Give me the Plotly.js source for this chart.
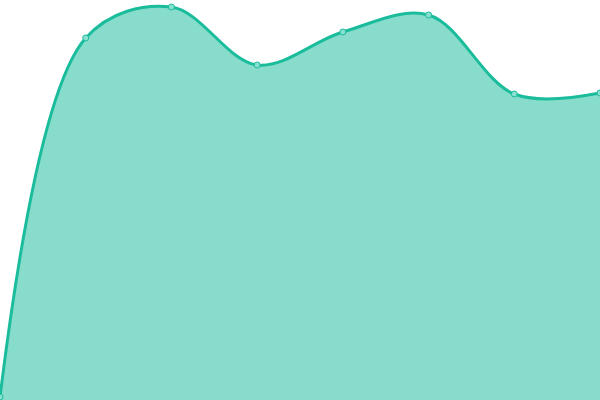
<!DOCTYPE html>
<html>
<head>
<meta charset="utf-8">
<script src="https://cdn.plot.ly/plotly-3.0.1.min.js"></script>
<style>
  html, body { margin: 0; padding: 0; background: #fff; }
  #chart { width: 600px; height: 400px; }
</style>
</head>
<body>
<div id="chart"></div>
<script>
// values
var labels = [0, 1, 2, 3, 4, 5, 6, 7];
var values = [3, 362, 393, 335, 368, 385, 306, 307];

var trace = {
    x: labels,
    y: values,
    type: "scatter",
    mode: "lines+markers",
    fill: "tozeroy",
    fillcolor: "rgba(26,188,156,0.52)",
    line: { color: "#1abc9c", width: 3, shape: "spline", smoothing: 1 },
    marker: { size: 6, color: "#88e0d0", line: { color: "#1abc9c", width: 1 } },
    hoverinfo: "none"
};

var layout = {
    width: 600,
    height: 400,
    margin: { l: 0, r: 0, t: 0, b: 0 },
    showlegend: false,
    paper_bgcolor: "#fff",
    plot_bgcolor: "#fff",
    xaxis: { range: [0, 7], visible: false, fixedrange: true },
    yaxis: { range: [0, 400], visible: false, fixedrange: true }
};

Plotly.newPlot("chart", [trace], layout, { displayModeBar: false, staticPlot: true });
</script>
</body>
</html>
